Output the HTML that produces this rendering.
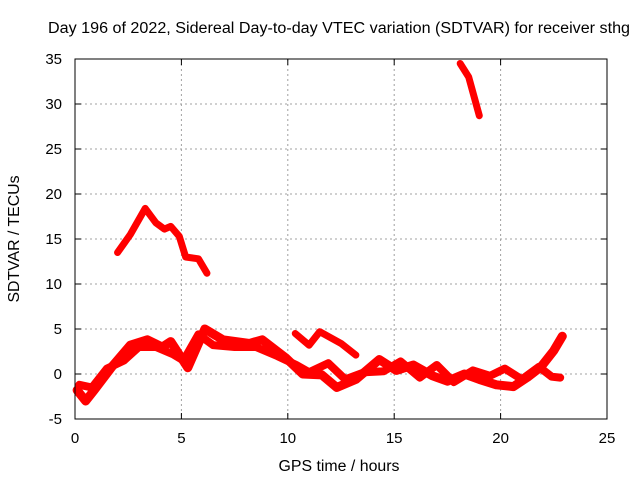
<!DOCTYPE html>
<html><head><meta charset="utf-8"><style>
body{margin:0;background:#fff}
svg{display:block;font-family:"Liberation Sans",sans-serif}
</style></head><body>
<svg id="c" width="640" height="480">
<text x="339" y="33" font-size="15.5" text-anchor="middle" textLength="582" lengthAdjust="spacingAndGlyphs">Day 196 of 2022, Sidereal Day-to-day VTEC variation (SDTVAR) for receiver sthg</text>
<text x="339" y="471" font-size="15.5" text-anchor="middle" textLength="121" lengthAdjust="spacingAndGlyphs">GPS time / hours</text>
<text transform="translate(19,239) rotate(-90)" font-size="15.5" text-anchor="middle" textLength="127" lengthAdjust="spacingAndGlyphs">SDTVAR / TECUs</text>
<g id="grid"></g><g id="marks"></g>
<rect x="75" y="59" width="532" height="360" fill="none" stroke="#000" stroke-width="1"/>
</svg>
<script>
const xTicks=[0,5,10,15,20,25];
const yTicks=[-5,0,5,10,15,20,25,30,35];
const seriesLowA=[[0.1,-1.8],[0.5,-3.0],[0.9,-1.8],[1.8,1.0],[2.6,3.2],[3.4,3.8],[4.1,3.0],[4.5,3.6],[5.3,0.7],[6.1,5.0],[6.95,3.8],[8.2,3.4],[8.8,3.8],[9.9,1.8],[10.7,0.0],[11.6,-0.1],[12.3,-1.5],[13.2,-0.6],[14.3,1.6],[15.1,0.4],[15.9,1.0],[16.8,-0.2],[17.5,-0.8],[18.3,0.0],[19.0,-0.6],[19.8,-1.2],[20.6,-1.4],[21.3,-0.3],[21.9,0.8],[22.5,2.6],[22.9,4.2]];
const seriesLowB=[[0.2,-1.2],[0.8,-1.5],[1.5,0.6],[2.3,1.5],[3.0,3.0],[3.8,3.0],[4.6,2.2],[5.1,1.5],[5.8,4.4],[6.5,3.2],[7.5,3.0],[8.5,3.0],[9.5,2.0],[10.4,1.0],[11.0,0.2],[11.9,1.2],[12.7,-0.6],[13.6,0.2],[14.5,0.3],[15.3,1.4],[16.2,-0.4],[17.0,1.0],[17.8,-0.9],[18.7,0.4],[19.5,-0.2],[20.2,0.6],[21.0,-0.6],[21.8,0.8],[22.4,-0.3],[22.8,-0.4]];
const seriesMid=[[10.35,4.5],[11.0,3.2],[11.5,4.7],[12.5,3.4],[13.2,2.1]];
const seriesArc=[[2.0,13.5],[2.6,15.5],[3.3,18.4],[3.8,16.8],[4.2,16.1],[4.5,16.4],[4.9,15.3],[5.2,13.0],[5.8,12.8],[6.2,11.2]];
const seriesTop=[[18.1,34.5],[18.5,33.0],[19.0,28.7]];
const X=h=>75+h*532/25, Y=v=>374-v*9;
const ns="http://www.w3.org/2000/svg";
const g=document.getElementById('grid'), m=document.getElementById('marks');
function mk(t,a,p){const e=document.createElementNS(ns,t);for(const k in a)e.setAttribute(k,a[k]);p.appendChild(e);return e;}
xTicks.forEach(t=>{
 if(t>0&&t<25){const l=mk('line',{x1:X(t),x2:X(t),y1:59,y2:419,stroke:'#a0a0a0','stroke-dasharray':'2,3'},g);
 
 }
 mk('line',{x1:X(t),x2:X(t),y1:419,y2:413,stroke:'#000'},g);
 mk('line',{x1:X(t),x2:X(t),y1:59,y2:65,stroke:'#000'},g);
 const tx=mk('text',{x:X(t),y:443,'font-size':15,'text-anchor':'middle'},g);tx.textContent=t;
 
 
});
yTicks.forEach(t=>{
 if(t>-5&&t<35){const l=mk('line',{x1:75,x2:607,y1:Y(t),y2:Y(t),stroke:'#a0a0a0','stroke-dasharray':'2,3'},g);
 
 }
 mk('line',{x1:75,x2:81,y1:Y(t),y2:Y(t),stroke:'#000'},g);
 mk('line',{x1:607,x2:601,y1:Y(t),y2:Y(t),stroke:'#000'},g);
 const tx=mk('text',{x:62,y:Y(t)+5,'font-size':15,'text-anchor':'end'},g);tx.textContent=t;
 
 
});
[[seriesLowA,9,'series-low-a'],[seriesLowB,8,'series-low-b'],[seriesMid,7,'series-mid'],[seriesArc,7,'series-arc'],[seriesTop,7,'series-top']].forEach(([s,w,n])=>{
 const p=mk('polyline',{points:s.map(d=>X(d[0])+','+Y(d[1])).join(' '),fill:'none',stroke:'#ff0000','stroke-width':w,'stroke-linejoin':'round','stroke-linecap':'round'},m);
 
 
});
</script>
</body></html>
